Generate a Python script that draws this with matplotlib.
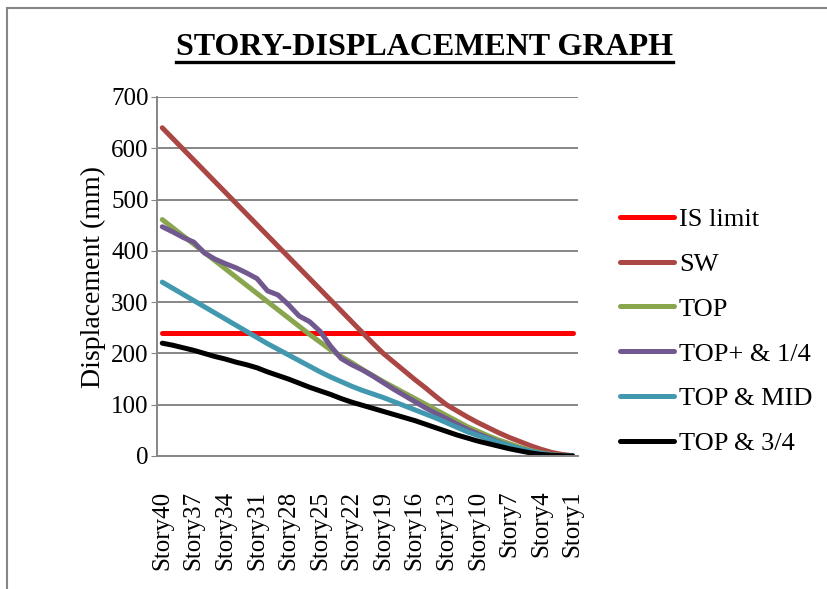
import matplotlib
matplotlib.use('Agg')
import matplotlib.pyplot as plt
from matplotlib.lines import Line2D
from matplotlib.patches import Rectangle

plt.rcParams['font.family'] = ['Liberation Serif', 'DejaVu Serif']

# categories, top storey first
stories = ['Story%d' % n for n in range(40, 0, -1)]

# displacements (mm), Story40 -> Story1
is_limit = [240] * 40
sw = [640, 619, 598, 577, 556, 535, 514, 493, 472, 451,
      430, 409, 388, 367, 346, 325, 304, 283, 262, 241,
      220, 200, 183, 166, 149, 133, 116, 100, 88, 76,
      65, 55, 45, 36, 28, 20, 13, 7, 3, 0.5]
top = [461, 445, 429, 413, 397, 381, 365, 349, 333, 317,
       301, 285, 269, 253, 237, 222, 207, 194, 182, 169,
       157, 145, 134, 123, 112, 101, 90, 79, 68, 57,
       48, 39, 31, 24, 17, 11, 6, 3, 1, 0]
top_quarter = [447, 437, 426, 417, 396, 384, 375, 367, 357, 346,
               322, 314, 295, 273, 262, 243, 214, 190, 178, 168,
               156, 143, 130, 118, 106, 94, 83, 73, 62, 52,
               43, 35, 27, 20, 14, 9, 5, 2, 0.5, 0]
top_mid = [339, 327, 315, 303, 291, 279, 267, 255, 243, 231,
           219, 208, 197, 186, 175, 164, 154, 145, 136, 128,
           121, 114, 106, 98, 90, 82, 74, 65, 56, 47,
           40, 33, 26, 20, 14, 9, 5, 2, 0.5, 0]
top_3q = [220, 216, 211, 206, 200, 194, 189, 183, 178, 172,
          164, 157, 150, 142, 134, 127, 120, 112, 105, 99,
          93, 87, 81, 75, 69, 62, 55, 48, 41, 35,
          29, 24, 19, 14, 10, 6, 3, 1.5, 0.5, 0]

series = [
    ('IS limit', is_limit, '#FF0000'),
    ('SW', sw, '#AA4643'),
    ('TOP', top, '#89A54E'),
    ('TOP+ & 1/4', top_quarter, '#71588F'),
    ('TOP & MID', top_mid, '#4198AF'),
    ('TOP & 3/4', top_3q, '#000000'),
]

fig = plt.figure(figsize=(8.28, 5.89), dpi=100)
ax = fig.add_axes([157 / 828, 1 - 456 / 589, 421 / 828, 359 / 589])

x = list(range(len(stories)))
for name, vals, col in series:
    ax.plot(x, vals, color=col, lw=3.6, label=name,
            solid_capstyle='round', solid_joinstyle='round')

ax.set_xlim(-0.5, len(stories) - 0.5)
ax.set_ylim(0, 700)
ax.set_yticks(range(0, 701, 100))
ax.set_xticks(x[::3])
ax.set_xticklabels(stories[::3], rotation=90, fontsize=18)
ax.tick_params(axis='x', length=0, pad=25)
ax.tick_params(axis='y', labelsize=18, length=4, color='#868686', pad=2)
ax.grid(axis='y', color='#868686', lw=1.4)
ax.set_axisbelow(True)
for s in ['top', 'right']:
    ax.spines[s].set_visible(False)
for s in ['left', 'bottom']:
    ax.spines[s].set_color('#868686')
    ax.spines[s].set_linewidth(1.4)
ax.set_ylabel('Displacement (mm)', fontsize=20, labelpad=4)

ax.legend(loc='upper left', bbox_to_anchor=(609 / 828, 1 - 197 / 589),
          bbox_transform=fig.transFigure, frameon=False, fontsize=19,
          handlelength=2.05, handletextpad=0.2, labelspacing=0.81,
          borderaxespad=0)

# title with underline
t = fig.text(425 / 828, 1 - 55 / 589, 'STORY-DISPLACEMENT GRAPH',
             ha='center', va='baseline', fontsize=23, fontweight='bold')
fig.canvas.draw()
bb = t.get_window_extent().transformed(fig.transFigure.inverted())
uy = 1 - 62 / 589
fig.add_artist(Line2D([bb.x0, bb.x1], [uy, uy], color='black', lw=2.4,
                      transform=fig.transFigure))

# chart area border
fig.add_artist(Rectangle((7 / 828, -0.05), 1.1, 1 - 8 / 589 + 0.05,
                         transform=fig.transFigure, fill=False,
                         edgecolor='#868686', lw=1.5))

fig.savefig('out.png', dpi=100)
